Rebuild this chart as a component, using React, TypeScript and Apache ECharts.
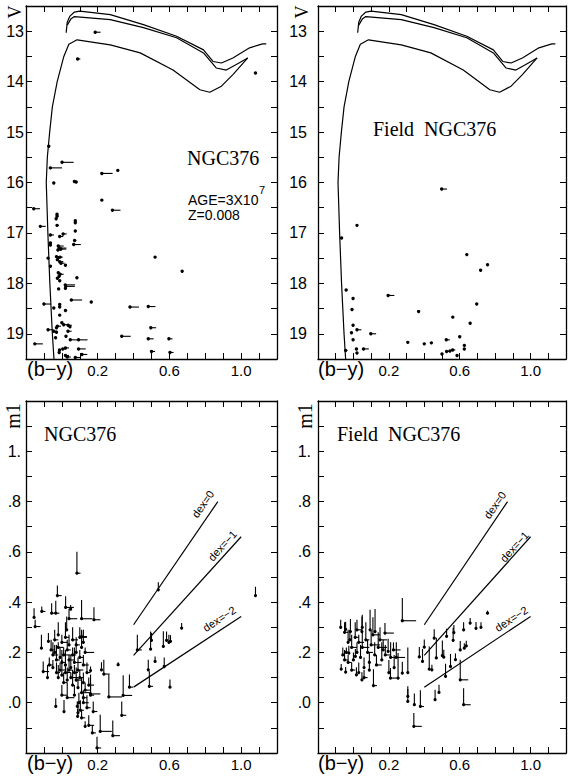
import React, { useEffect, useRef } from 'react';
import * as echarts from 'echarts';

// ---- tick labels ----
const X_TICK_LABELS: Record<number, string> = { 2: '0.2', 6: '0.6', 10: '1.0' };
const V_TICK_LABELS = ['13', '14', '15', '16', '17', '18', '19'];
const M1_TICK_LABELS: Record<number, string> = { 0: '.0', 2: '.2', 4: '.4', 6: '.6', 8: '.8', 10: '1.' };

// ---- isochrone (b-y, V) ----
const isoUpper: number[][] = [
  [0.024, 13.03], [0.03, 12.82], [0.045, 12.7], [0.07, 12.62], [0.1, 12.6], [0.27, 12.67],
  [0.455, 12.87], [0.64, 13.1], [0.79, 13.37], [0.843, 13.6], [0.89, 13.63], [0.954, 13.53],
  [1.047, 13.33], [1.12, 13.25], [1.14, 13.25],
];
const isoMiddle: number[][] = [
  [0.03, 12.88], [0.05, 12.76], [0.07, 12.71], [0.27, 12.77], [0.455, 12.93], [0.64, 13.13],
  [0.79, 13.43], [0.862, 13.73], [0.917, 13.77], [0.973, 13.66], [1.037, 13.53],
];
const isoLower: number[][] = [
  [-0.044, 19.5], [-0.053, 19], [-0.067, 18], [-0.078, 17], [-0.087, 16], [-0.081, 15.5],
  [-0.068, 15], [-0.053, 14.5], [-0.026, 14], [0.011, 13.5], [0.039, 13.26], [0.085, 13.17],
  [0.27, 13.27], [0.437, 13.43], [0.62, 13.77], [0.77, 14.16], [0.825, 14.21], [0.89, 14.09],
  [0.954, 13.86], [1.037, 13.53],
];

// ---- CMD stars: [b-y, V, err(b-y)] ----
const clusterCMD: number[][] = [
  [0.186, 13.02, 0.03], [0.088, 13.55, 0.015], [1.08, 13.83, 0], [-0.073, 15.28, 0],
  [0.001, 15.6, 0.065], [-0.064, 15.71, 0.065], [-0.045, 16.01, 0], [0.07, 15.98, 0.01],
  [0.08, 15.99, 0], [0.223, 15.82, 0.06], [0.312, 15.76, 0],
  [0.223, 16.35, 0], [0.282, 16.55, 0.045], [-0.157, 16.52, 0.035], [-0.027, 16.63, 0],
  [-0.027, 16.67, 0.01], [-0.032, 16.72, 0], [-0.027, 16.85, 0.01], [0.075, 16.76, 0],
  [0.075, 16.8, 0], [-0.12, 16.87, 0.03], [0.075, 16.96, 0], [-0.064, 17.04, 0.02],
  [-0.012, 17.07, 0.02], [0.007, 17.02, 0.02], [0.071, 17.15, 0.01], [0.066, 17.23, 0.04],
  [-0.064, 17.2, 0], [-0.064, 17.24, 0], [-0.02, 17.26, 0.03], [-0.015, 17.3, 0.04],
  [-0.005, 17.32, 0.03], [-0.022, 17.34, 0.02], [-0.077, 17.5, 0], [-0.03, 17.47, 0.02],
  [-0.02, 17.49, 0], [-0.01, 17.48, 0.015], [-0.025, 17.53, 0], [-0.012, 17.57, 0.02],
  [-0.005, 17.6, 0.02], [0.52, 17.48, 0], [0.671, 17.76, 0], [-0.064, 17.66, 0],
  [0.02, 17.64, 0], [-0.02, 17.79, 0], [-0.01, 17.82, 0.02], [-0.015, 17.86, 0],
  [-0.025, 17.9, 0], [-0.012, 17.95, 0], [0.084, 17.89, 0], [0.019, 18.03, 0.055],
  [0.022, 18.06, 0.05], [0.02, 18.1, 0], [-0.018, 18.11, 0], [0.053, 18.33, 0.06],
  [0.164, 18.37, 0], [-0.1, 18.41, 0.04], [-0.012, 18.42, 0], [-0.012, 18.47, 0],
  [-0.045, 18.49, 0], [0.02, 18.54, 0.01], [-0.012, 18.63, 0], [0.38, 18.47, 0.05],
  [0.482, 18.46, 0.04], [0.0, 18.78, 0], [0.01, 18.82, 0.02], [-0.025, 18.85, 0.02],
  [-0.03, 18.88, 0], [0.035, 18.83, 0.02], [0.045, 18.86, 0], [-0.045, 18.95, 0.02],
  [-0.03, 18.97, 0], [-0.077, 18.92, 0.03], [0.034, 18.95, 0.02], [0.023, 19.05, 0],
  [0.047, 19.12, 0.04], [0.093, 19.12, 0.05], [-0.151, 19.2, 0.045], [-0.035, 19.08, 0],
  [0.334, 19.05, 0.05], [0.482, 19.1, 0.03], [0.496, 18.88, 0.03], [0.597, 19.1, 0.02],
  [0.5, 19.35, 0.02], [0.603, 19.37, 0.02], [-0.013, 19.32, 0], [0.005, 19.3, 0.02],
  [0.02, 19.28, 0.02], [0.093, 19.3, 0.04], [-0.015, 19.37, 0], [0.02, 19.43, 0.02],
  [0.03, 19.46, 0.02], [0.112, 19.41, 0.03], [0.075, 19.47, 0.03],
];
const fieldCMD: number[][] = [
  [0.498, 16.13, 0.03], [0.02, 16.85, 0], [-0.067, 17.1, 0], [0.64, 17.43, 0], [0.757, 17.63, 0],
  [0.718, 17.74, 0], [-0.041, 18.13, 0], [-0.002, 18.3, 0], [0.196, 18.24, 0.035], [0.696, 18.41, 0],
  [-0.008, 18.52, 0], [0.368, 18.56, 0], [0.561, 18.67, 0], [-0.002, 18.83, 0], [0.659, 18.79, 0],
  [0.02, 18.92, 0.025], [-0.011, 18.98, 0], [0.098, 19.0, 0.03], [-0.002, 19.12, 0], [0.6, 19.06, 0],
  [0.524, 19.12, 0.02], [0.626, 19.23, 0], [0.626, 19.3, 0], [0.307, 19.17, 0], [0.4, 19.2, 0],
  [0.44, 19.18, 0], [-0.044, 19.33, 0.01], [0.017, 19.3, 0], [0.02, 19.38, 0], [0.057, 19.3, 0.03],
  [0.526, 19.35, 0.015], [0.545, 19.34, 0], [0.56, 19.32, 0.015], [0.5, 19.4, 0], [0.585, 19.43, 0],
];

// ---- m1 stars: [b-y, m1, err(b-y), err(m1)] ----
const clusterM1: number[][] = [
  [0.084, 0.515, 0.02, 0.085], [0.538, 0.449, 0, 0.03], [1.08, 0.426, 0, 0.035], [0.668, 0.297, 0, 0.02],
  [-0.025, 0.426, 0.024, 0.04], [0.021, 0.379, 0.046, 0.044], [0.049, 0.372, 0, 0.017], [-0.155, 0.339, 0, 0.037],
  [-0.149, 0.303, 0.03, 0.027], [-0.112, 0.363, 0.02, 0.02], [-0.057, 0.356, 0.03, 0.04], [-0.034, 0.356, 0.02, 0.05],
  [0.04, 0.334, 0.046, 0.04], [0.11, 0.334, 0.06, 0.075], [0.179, 0.33, 0.036, 0.05], [0.027, 0.29, 0, 0.053],
  [0.11, 0.263, 0.03, 0.027], [-0.114, 0.217, 0, 0.053], [-0.075, 0.244, 0, 0.033], [-0.104, 0.124, 0.033, 0.04],
  [0.16, 0.128, 0, 0.016], [0.221, 0.131, 0, 0.03], [0.314, 0.151, 0, 0.01], [0.234, 0.114, 0.033, 0.057],
  [0.16, 0.035, 0.055, 0.077], [0.262, 0.023, 0.074, 0.089], [0.342, 0.029, 0.05, 0.08], [0.377, 0.062, 0.02, 0.05],
  [-0.034, -0.015, 0, 0.033], [0.012, -0.035, 0, 0.046], [0.086, -0.015, 0, 0.02], [0.175, -0.035, 0.023, 0.04],
  [0.214, -0.114, 0.065, 0.066], [0.284, -0.131, 0.04, 0.06], [0.334, -0.05, 0.025, 0.055], [0.13, -0.094, 0, 0.02],
  [0.196, -0.18, 0.023, 0.045], [0.421, 0.21, 0.025, 0.06], [0.495, 0.213, 0, 0.07], [0.5, 0.248, 0, 0.03],
  [0.52, 0.164, 0, 0.02], [0.482, 0.131, 0, 0.04], [0.488, 0.065, 0.02, 0.06], [0.566, 0.224, 0, 0.06],
  [0.571, 0.144, 0, 0.036], [0.584, 0.248, 0, 0.035], [0.597, 0.24, 0, 0.03], [0.606, 0.244, 0, 0.025],
  [0.603, 0.062, 0, 0.03], [0.088, -0.054, 0, 0.03], [0.103, -0.03, 0.02, 0.04], [0.095, 0.0, 0, 0.04],
  [0.12, 0.02, 0.02, 0.03],
  [-0.06, 0.21, 0.02, 0.04], [-0.05, 0.19, 0.03, 0.05], [-0.04, 0.2, 0, 0.03], [-0.03, 0.17, 0.02, 0.06],
  [-0.02, 0.22, 0.03, 0.02], [-0.01, 0.18, 0, 0.04], [0, 0.16, 0.02, 0.05], [0.01, 0.19, 0.04, 0.03],
  [0.02, 0.15, 0, 0.06], [0.03, 0.21, 0.02, 0.04], [0.04, 0.17, 0.03, 0.02], [0.05, 0.14, 0, 0.05],
  [0.06, 0.19, 0.02, 0.03], [0.07, 0.16, 0.04, 0.06], [0.08, 0.2, 0, 0.04], [0.09, 0.13, 0.03, 0.05],
  [0.1, 0.18, 0.02, 0.03], [0.11, 0.22, 0, 0.06], [0.12, 0.15, 0.03, 0.04], [0.13, 0.2, 0.05, 0.02],
  [-0.05, 0.14, 0, 0.03], [-0.03, 0.12, 0.02, 0.04], [-0.02, 0.1, 0, 0.05], [-0.01, 0.13, 0.03, 0.03],
  [0, 0.11, 0, 0.06], [0.01, 0.08, 0.02, 0.04], [0.02, 0.12, 0.03, 0.03], [0.03, 0.09, 0, 0.05],
  [0.04, 0.13, 0.02, 0.04], [0.05, 0.1, 0.04, 0.02], [0.06, 0.07, 0, 0.06], [0.07, 0.12, 0.02, 0.03],
  [0.08, 0.09, 0.03, 0.05], [0.09, 0.06, 0, 0.04], [0.1, 0.1, 0.02, 0.03], [0.11, 0.04, 0.05, 0.06],
  [0.12, 0.08, 0, 0.04], [0.13, 0.05, 0.03, 0.03], [-0.04, 0.25, 0.02, 0.04], [-0.02, 0.27, 0, 0.05],
  [0.0, 0.24, 0.03, 0.03], [0.02, 0.26, 0.02, 0.06], [0.04, 0.23, 0, 0.04], [0.06, 0.25, 0.03, 0.05],
  [0.08, 0.23, 0.02, 0.03], [0.1, 0.26, 0.04, 0.04], [0.12, 0.24, 0, 0.05], [-0.07, 0.15, 0.02, 0.03],
  [-0.08, 0.1, 0, 0.05], [0.14, 0.12, 0.02, 0.04], [0.15, 0.07, 0.03, 0.03], [0.16, 0.03, 0.02, 0.05],
  [0.0, 0.03, 0.03, 0.04], [0.03, 0.02, 0.04, 0.06], [0.07, 0.03, 0, 0.04], [0.12, 0.0, 0.03, 0.03],
  [0.14, -0.02, 0.02, 0.05], [0.09, -0.04, 0, 0.04], [0.11, -0.06, 0.02, 0.03], [0.15, -0.09, 0.03, 0.04],
  [0.17, -0.12, 0.02, 0.03],
];
const fieldM1: number[][] = [
  [0.276, 0.326, 0.078, 0.09], [0.757, 0.356, 0, 0.01], [0.72, 0.3, 0, 0.02], [0.692, 0.296, 0, 0.025],
  [0.659, 0.317, 0, 0.02], [0.622, 0.29, 0, 0.03], [0.637, 0.226, 0, 0.02], [0.626, 0.217, 0, 0.02],
  [0.603, 0.21, 0, 0.035], [0.576, 0.171, 0, 0.025], [0.563, 0.248, 0, 0.05], [0.567, 0.279, 0, 0.03],
  [0.526, 0.264, 0, 0.03], [0.502, 0.187, 0, 0.06], [0.51, 0.181, 0, 0.03], [0.468, 0.178, 0, 0.08],
  [0.456, 0.257, 0, 0.035], [0.428, 0.134, 0, 0.09], [0.443, 0.131, 0, 0.02], [0.4, 0.221, 0, 0.03],
  [0.39, 0.164, 0, 0.05], [0.372, 0.182, 0, 0.04], [0.52, 0.105, 0, 0.05], [0.548, 0.144, 0, 0.05],
  [0.603, 0.091, 0.045, 0.08], [0.622, -0.008, 0.04, 0.066], [0.461, 0.012, 0, 0.04], [0.483, 0.041, 0, 0.03],
  [0.307, 0.005, 0, 0.06], [0.344, -0.008, 0, 0.045], [0.378, -0.015, 0.02, 0.065], [0.307, 0.025, 0, 0.03],
  [0.341, -0.094, 0.045, 0.053], [0.276, 0.118, 0, 0.045], [0.307, 0.12, 0, 0.1], [0.209, 0.098, 0.05, 0.04],
  [0.252, 0.098, 0, 0.1], [0.113, 0.068, 0.02, 0.065], [0.242, 0.18, 0.05, 0.06], [0.196, 0.204, 0, 0.05],
  [0.168, 0.21, 0, 0.04], [0.226, 0.21, 0.04, 0.03], [-0.069, 0.134, 0, 0.02], [-0.044, 0.122, 0, 0.02],
  [-0.072, 0.3, 0, 0.03], [-0.044, 0.292, 0, 0.03], [-0.017, 0.283, 0, 0.05], [0.048, 0.283, 0, 0.06],
  [0.094, 0.29, 0, 0.08], [0.122, 0.283, 0, 0.09], [0.178, 0.277, 0.05, 0.04], [-0.026, 0.197, 0, 0.03],
  [0.011, 0.184, 0, 0.03], [0.017, 0.111, 0, 0.03], [0.048, 0.091, 0, 0.03],
  [-0.06, 0.19, 0, 0.03], [-0.05, 0.17, 0.02, 0.04], [-0.04, 0.2, 0, 0.02], [-0.03, 0.16, 0.02, 0.03],
  [-0.02, 0.25, 0, 0.04], [-0.01, 0.22, 0.03, 0.05], [0, 0.17, 0, 0.03], [0.01, 0.26, 0.02, 0.06],
  [0.02, 0.2, 0, 0.04], [0.03, 0.24, 0.03, 0.03], [0.04, 0.18, 0, 0.05], [0.05, 0.22, 0.04, 0.06],
  [0.06, 0.14, 0, 0.04], [0.07, 0.25, 0.02, 0.07], [0.08, 0.2, 0.03, 0.05], [0.09, 0.16, 0, 0.04],
  [0.1, 0.23, 0.05, 0.06], [0.11, 0.27, 0.04, 0.07], [0.12, 0.19, 0, 0.05], [0.13, 0.15, 0.03, 0.04],
  [0.14, 0.22, 0.05, 0.06], [0.15, 0.25, 0.04, 0.05], [0.16, 0.17, 0, 0.07], [0.18, 0.19, 0.03, 0.04],
  [0.2, 0.12, 0, 0.05], [0.21, 0.18, 0.03, 0.06], [0.23, 0.14, 0, 0.05], [-0.01, 0.13, 0.02, 0.03],
  [0.03, 0.12, 0, 0.04], [0.06, 0.1, 0.02, 0.03], [0.09, 0.13, 0, 0.04], [-0.05, 0.28, 0.02, 0.04],
  [-0.03, 0.24, 0, 0.05], [0.02, 0.29, 0.03, 0.04], [0.05, 0.3, 0, 0.05],
];

// ---- metallicity reference lines ----
const dex0: number[][] = [[0.4, 0.31], [0.87, 0.8]];
const dexM1: number[][] = [[0.4, 0.188], [1.0, 0.66]];
const dexM2: number[][] = [[0.4, 0.062], [1.0, 0.343]];

const SANS = "'Liberation Sans', Arial, sans-serif";
const SERIF = "'Liberation Serif', 'Times New Roman', serif";

const grids = [
  { left: 26, top: 6, width: 251, height: 353 },
  { left: 318, top: 6, width: 252, height: 353 },
  { left: 26, top: 401, width: 251, height: 352 },
  { left: 318, top: 401, width: 252, height: 352 },
];
const yLabelMargin = [2, 11, 5, 7];

function xAxes(gi: number) {
  const base = {
    type: 'value', gridIndex: gi, min: -0.2, max: 1.2, interval: 0.1,
    axisLine: { show: true, onZero: false, lineStyle: { color: '#000', width: 1.3 } },
    axisTick: { show: true, inside: true, length: 6, lineStyle: { color: '#000', width: 1 } },
    splitLine: { show: false },
  };
  return [
    {
      ...base, position: 'bottom',
      axisLabel: {
        show: true, interval: 0, margin: 4, color: '#000', fontSize: 15, fontFamily: SANS,
        formatter: (v: number) => X_TICK_LABELS[Math.round(v * 10)] || '',
      },
    },
    { ...base, position: 'top', axisLabel: { show: false } },
  ];
}

function yAxes(gi: number, top: boolean) {
  const base: any = top
    ? { type: 'value', gridIndex: gi, min: 12.5, max: 19.5, interval: 0.5, inverse: true }
    : { type: 'value', gridIndex: gi, min: -0.2, max: 1.2, interval: 0.1 };
  Object.assign(base, {
    axisLine: { show: true, onZero: false, lineStyle: { color: '#000', width: 1.3 } },
    axisTick: { show: true, inside: true, length: 6, lineStyle: { color: '#000', width: 1 } },
    splitLine: { show: false },
  });
  const fmt = top
    ? (v: number) => {
        const r = Math.round(v);
        return Math.abs(v - r) < 1e-6 && V_TICK_LABELS.includes(String(r)) ? String(r) : '';
      }
    : (v: number) => M1_TICK_LABELS[Math.round(v * 10)] || '';
  return [
    {
      ...base, position: 'left',
      axisLabel: { show: true, interval: 0, margin: yLabelMargin[gi], color: '#000', fontSize: 16, fontFamily: SANS, formatter: fmt },
    },
    { ...base, position: 'right', axisLabel: { show: false } },
  ];
}

function cmdRender(params: any, api: any) {
  const x = api.value(0), y = api.value(1), e = api.value(2);
  const p = api.coord([x, y]);
  const children: any[] = [];
  if (e > 0) {
    const q = api.coord([x + e, y]);
    children.push({ type: 'line', shape: { x1: p[0], y1: p[1], x2: q[0], y2: q[1] }, style: { stroke: '#000', lineWidth: 1.1 } });
  }
  children.push({ type: 'circle', shape: { cx: p[0], cy: p[1], r: 1.7 }, style: { fill: '#000' } });
  return { type: 'group', children };
}

function m1Render(params: any, api: any) {
  const x = api.value(0), y = api.value(1), dx = api.value(2), dy = api.value(3);
  const p = api.coord([x, y]);
  const children: any[] = [];
  if (dy > 0) {
    const q = api.coord([x, y + dy]);
    children.push({ type: 'line', shape: { x1: p[0], y1: p[1], x2: q[0], y2: q[1] }, style: { stroke: '#000', lineWidth: 1.1 } });
  }
  if (dx > 0) {
    const q = api.coord([x + dx, y]);
    children.push({ type: 'line', shape: { x1: p[0], y1: p[1], x2: q[0], y2: q[1] }, style: { stroke: '#000', lineWidth: 1.1 } });
  }
  children.push({ type: 'circle', shape: { cx: p[0], cy: p[1], r: 1.6 }, style: { fill: '#000' } });
  return { type: 'group', children };
}

function lineSeries(data: number[][], gi: number) {
  return {
    type: 'line', data, xAxisIndex: gi * 2, yAxisIndex: gi * 2, showSymbol: false, symbol: 'none',
    lineStyle: { color: '#000', width: 1.2 }, silent: true, smooth: false, clip: true,
  };
}

function text(x: number, y: number, t: string, font: string, size: number, extra: any = {}) {
  return {
    type: 'text', x, y, ...extra,
    style: { text: t, fontFamily: font, fontSize: size, fill: '#000', align: extra.align || 'left', verticalAlign: 'middle' },
  };
}

// label along a line, shifted perpendicular (up-left) by off px
function dexLabel(cx: number, cy: number, t: string, deg: number, off: number) {
  const r = (deg * Math.PI) / 180;
  return text(cx - Math.sin(r) * off, cy - Math.cos(r) * off, t, SANS, 11, { rotation: r, align: 'center' });
}

export default function App() {
  const ref = useRef<HTMLDivElement>(null);
  useEffect(() => {
    if (!ref.current) return;
    const chart = echarts.init(ref.current, undefined, { renderer: 'svg' });
    const xAxis: any[] = [];
    const yAxis: any[] = [];
    for (let i = 0; i < 4; i++) {
      xAxis.push(...xAxes(i));
      yAxis.push(...yAxes(i, i < 2));
    }
    const series: any[] = [];
    for (const gi of [0, 1]) {
      series.push(lineSeries(isoUpper, gi), lineSeries(isoMiddle, gi), lineSeries(isoLower, gi));
    }
    series.push({ type: 'custom', xAxisIndex: 0, yAxisIndex: 0, data: clusterCMD, renderItem: cmdRender, encode: { x: 0, y: 1 }, silent: true });
    series.push({ type: 'custom', xAxisIndex: 2, yAxisIndex: 2, data: fieldCMD, renderItem: cmdRender, encode: { x: 0, y: 1 }, silent: true });
    for (const gi of [2, 3]) {
      series.push(lineSeries(dex0, gi), lineSeries(dexM1, gi), lineSeries(dexM2, gi));
    }
    series.push({ type: 'custom', xAxisIndex: 4, yAxisIndex: 4, data: clusterM1, renderItem: m1Render, encode: { x: 0, y: 1 }, silent: true });
    series.push({ type: 'custom', xAxisIndex: 6, yAxisIndex: 6, data: fieldM1, renderItem: m1Render, encode: { x: 0, y: 1 }, silent: true });

    const graphic: any[] = [
      // axis titles
      text(15, 12, 'V', SERIF, 18, { rotation: Math.PI / 2, align: 'center' }),
      text(302, 12, 'V', SERIF, 18, { rotation: Math.PI / 2, align: 'center' }),
      text(13, 416, 'm1', SERIF, 20, { rotation: Math.PI / 2, align: 'center' }),
      text(305, 416, 'm1', SERIF, 20, { rotation: Math.PI / 2, align: 'center' }),
      text(27, 369, '(b\u2212y)', SANS, 20),
      text(318, 369, '(b\u2212y)', SANS, 20),
      text(27, 763, '(b\u2212y)', SANS, 20),
      text(318, 763, '(b\u2212y)', SANS, 20),
      // panel titles
      text(187, 158, 'NGC376', SERIF, 20),
      text(373, 129, 'Field  NGC376', SERIF, 20),
      text(44, 434, 'NGC376', SERIF, 20),
      text(337, 434, 'Field  NGC376', SERIF, 20),
      // model info
      text(188, 200, 'AGE=3X10', SANS, 14),
      text(259, 190, '7', SANS, 11),
      text(188, 215, 'Z=0.008', SANS, 14),
      // dex labels
      dexLabel(207, 507, 'dex=0', 55, 5),
      dexLabel(226, 549, 'dex=\u22121', 47.7, 5),
      dexLabel(222, 623, 'dex=\u22122', 33, 5),
      dexLabel(499, 508, 'dex=0', 55, 5),
      dexLabel(518, 550, 'dex=\u22121', 47.7, 5),
      dexLabel(514, 623, 'dex=\u22122', 33, 5),
    ];

    chart.setOption({
      animation: false,
      backgroundColor: '#fff',
      grid: grids.map((g) => ({ ...g, containLabel: false, show: false })),
      xAxis, yAxis, series, graphic,
    });
    return () => chart.dispose();
  }, []);
  return <div ref={ref} style={{ position: 'fixed', left: 0, top: 0, width: 569, height: 778, background: '#fff' }} />;
}
